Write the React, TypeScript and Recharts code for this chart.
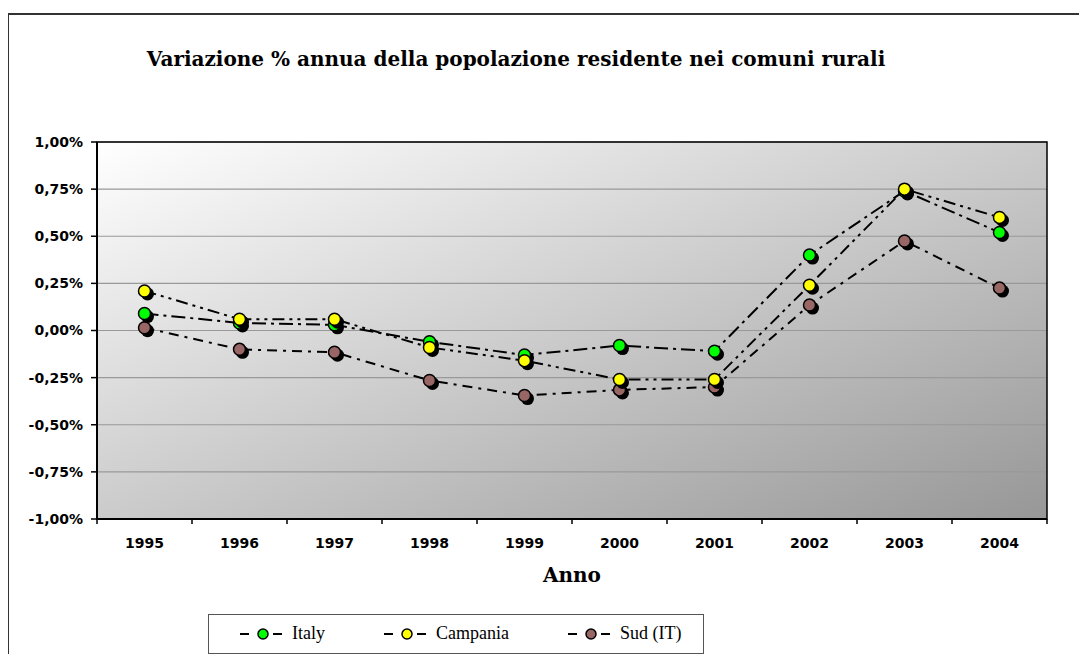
import React from 'react';
import { LineChart, Line, XAxis, YAxis, CartesianGrid, ReferenceArea } from 'recharts';

// anni e variazioni % annue
const years = [1995, 1996, 1997, 1998, 1999, 2000, 2001, 2002, 2003, 2004];
const italy = [0.09, 0.04, 0.03, -0.06, -0.13, -0.08, -0.11, 0.40, 0.74, 0.52];
const campania = [0.21, 0.06, 0.06, -0.09, -0.16, -0.26, -0.26, 0.24, 0.75, 0.60];
const sud = [0.015, -0.10, -0.115, -0.265, -0.345, -0.315, -0.30, 0.135, 0.475, 0.225];
const yTicks = [-1, -0.75, -0.5, -0.25, 0, 0.25, 0.5, 0.75, 1];
const xTicks = [1994.5, 1995, 1995.5, 1996, 1996.5, 1997, 1997.5, 1998, 1998.5, 1999, 1999.5,
  2000, 2000.5, 2001, 2001.5, 2002, 2002.5, 2003, 2003.5, 2004, 2004.5];

const series = [
  { key: 'sud', name: 'Sud (IT)', color: '#996666', dash: '10 6 3 6' },
  { key: 'italy', name: 'Italy', color: '#00ff00', dash: '14 5 3 5' },
  { key: 'campania', name: 'Campania', color: '#ffff00', dash: '12 5 3 5 3 5' },
];

const data = years.map((y, i) => ({ year: y, italy: italy[i], campania: campania[i], sud: sud[i] }));

const fmtPct = (v: number) => v.toFixed(2).replace('.', ',') + '%';

const XTick = (props: any) => {
  const { x, y, payload } = props;
  if (!Number.isInteger(payload.value)) {
    return <line x1={x} x2={x} y1={y} y2={y + 5} stroke="#000" strokeWidth={1.5} />;
  }
  return (
    <text x={x} y={y + 29} textAnchor="middle" fontFamily="DejaVu Sans" fontWeight="bold" fontSize={14} fill="#000">
      {payload.value}
    </text>
  );
};

const makeDot = (color: string) => (props: any) => {
  const { cx, cy, index } = props;
  return (
    <g key={'d' + color + index}>
      <circle cx={cx + 3} cy={cy + 3} r={6.5} fill="#000" />
      <circle cx={cx} cy={cy} r={6} fill={color} stroke="#000" strokeWidth={1.5} />
    </g>
  );
};

const legendOrder = ['italy', 'campania', 'sud'];
const legendLeft = [31, 175, 359];

const App: React.FC = () => {
  return (
    <div style={{ position: 'relative', width: 1079, height: 646, overflow: 'hidden', background: '#fff' }}>
      <div style={{ position: 'absolute', left: -1, top: 5, width: 1200, height: 800, border: '2px solid #333' }} />
      <div style={{ position: 'absolute', left: 0, top: 39, width: 1016, textAlign: 'center', fontFamily: 'DejaVu Serif', fontWeight: 'bold', fontSize: 20, lineHeight: '24px' }}>
        Variazione % annua della popolazione residente nei comuni rurali
      </div>
      <div style={{ position: 'absolute', left: 0, top: 0 }}>
        <LineChart width={1079} height={646} data={data} margin={{ top: 134, right: 40, left: 0, bottom: 72 }}>
          <defs>
            <linearGradient id="plotBg" x1="0" y1="0" x2="1" y2="1">
              <stop offset="0%" stopColor="#ffffff" />
              <stop offset="100%" stopColor="#979797" />
            </linearGradient>
          </defs>
          <CartesianGrid vertical={false} stroke="#999" strokeWidth={1.2} fill="url(#plotBg)" fillOpacity={1} />
          <XAxis
            dataKey="year"
            type="number"
            domain={[1994.5, 2004.5]}
            ticks={xTicks}
            interval={0}
            tick={<XTick />}
            tickLine={false}
            tickSize={0}
            tickMargin={0}
            height={63}
            axisLine={{ stroke: '#000', strokeWidth: 2 }}
            label={{ value: 'Anno', position: 'insideBottom', offset: 0, fontFamily: 'DejaVu Serif', fontWeight: 'bold', fontSize: 20, fill: '#000' }}
          />
          <YAxis
            domain={[-1, 1]}
            ticks={yTicks}
            interval={0}
            width={89}
            tickFormatter={fmtPct}
            tickSize={6}
            tickMargin={8}
            tickLine={{ stroke: '#000', strokeWidth: 1.5 }}
            axisLine={{ stroke: '#000', strokeWidth: 2 }}
            tick={{ fontFamily: 'DejaVu Sans', fontWeight: 'bold', fontSize: 14, fill: '#000' }}
          />
          <ReferenceArea x1={1994.5} x2={2004.5} y1={-1} y2={1} fill="none" stroke="#000" strokeWidth={1.5} />
          {series.map((s) => (
            <Line
              key={s.key}
              dataKey={s.key}
              name={s.name}
              stroke="#000"
              strokeWidth={2}
              strokeDasharray={s.dash}
              dot={makeDot(s.color)}
              isAnimationActive={false}
            />
          ))}
        </LineChart>
      </div>
      <div style={{ position: 'absolute', left: 200, top: 606, width: 494, height: 38, border: '1px solid #555', fontFamily: 'Liberation Serif', fontSize: 18 }}>
        {legendOrder.map((k, i) => {
          const s = series.find((x) => x.key === k)!;
          return (
            <div key={k} style={{ position: 'absolute', left: legendLeft[i], top: 8, display: 'flex', alignItems: 'center', whiteSpace: 'nowrap' }}>
              <svg width={42} height={16}>
                <line x1={0} x2={9} y1={8} y2={8} stroke="#000" strokeWidth={2} />
                <circle cx={23} cy={8} r={5} fill={s.color} stroke="#000" strokeWidth={1.5} />
                <line x1={33} x2={42} y1={8} y2={8} stroke="#000" strokeWidth={2} />
              </svg>
              <span style={{ marginLeft: 10 }}>{s.name}</span>
            </div>
          );
        })}
      </div>
    </div>
  );
};

export default App;
